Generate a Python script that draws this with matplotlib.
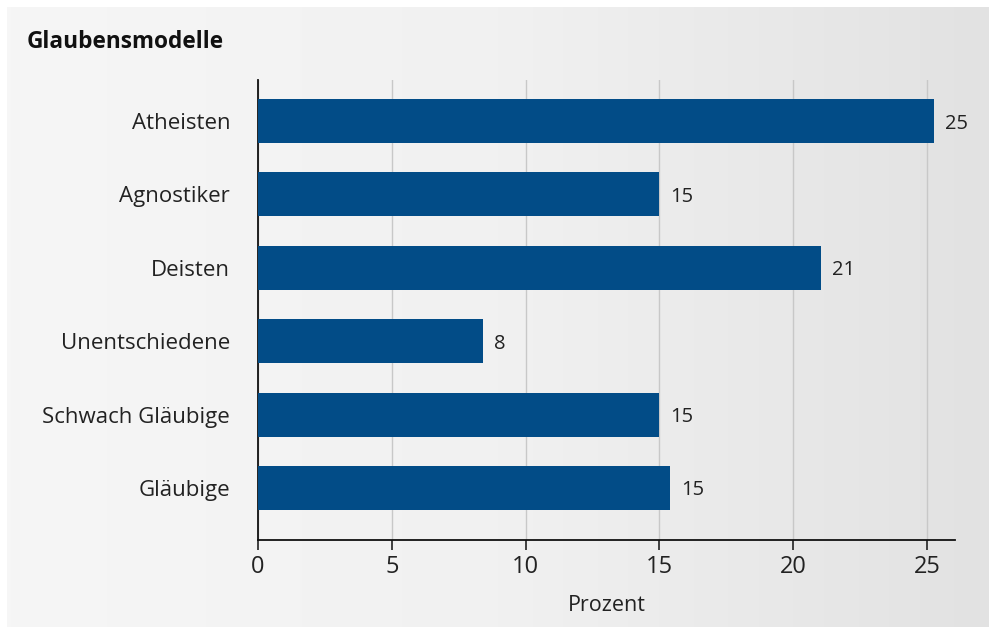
import numpy as np
import matplotlib.pyplot as plt
from matplotlib.colors import LinearSegmentedColormap

plt.rcParams['font.family'] = ['Open Sans', 'DejaVu Sans']

kategorien = ['Atheisten', 'Agnostiker', 'Deisten', 'Unentschiedene',
              'Schwach Gläubige', 'Gläubige']
prozent = [25.25, 15.0, 21.05, 8.4, 15.0, 15.4]
xticks = [0, 5, 10, 15, 20, 25]

fig = plt.figure(figsize=(9.89, 6.27), dpi=100)

# Hintergrund mit horizontalem Grauverlauf
bg = fig.add_axes([7 / 989, 0, 982 / 989, 620 / 627], zorder=-10)
verlauf = np.linspace(0, 1, 256).reshape(1, -1)
cmap = LinearSegmentedColormap.from_list('grau', ['#f6f6f6', '#f1f1f1', '#e2e2e2'])
bg.imshow(verlauf, aspect='auto', cmap=cmap, extent=[0, 1, 0, 1])
bg.axis('off')

ax = fig.add_axes([258 / 989, 1 - 540 / 627, (955 - 258) / 989, (540 - 80) / 627])
ax.set_facecolor('none')

y = np.arange(len(kategorien))
ax.barh(y, prozent, height=0.6, color='#024c87', zorder=3)
for yi, v in zip(y, prozent):
    ax.text(v + 0.42, yi, f'{v:.0f}', va='center_baseline', ha='left',
            fontsize=14.5, color='#222222')

ax.set_yticks(y)
ax.set_yticklabels(kategorien, fontsize=16, color='#222222')
ax.set_ylim(5.71, -0.56)
ax.set_xlim(0, 26.05)
ax.set_xticks(xticks)
ax.set_xticklabels([str(t) for t in xticks], fontsize=17, color='#222222')
ax.tick_params(axis='y', length=0, pad=20)
ax.tick_params(axis='x', length=7, width=1.2, color='#222222', pad=4)

ax.grid(axis='x', color='#c8c8c8', linewidth=1, zorder=0)
ax.set_axisbelow(True)
for s in ['top', 'right']:
    ax.spines[s].set_visible(False)
for s in ['left', 'bottom']:
    ax.spines[s].set_linewidth(1.3)
    ax.spines[s].set_color('#111111')

ax.set_xlabel('Prozent', fontsize=15.5, color='#222222', labelpad=11)

fig.text(27 / 989, 1 - 42 / 627, 'Glaubensmodelle', fontsize=16.3,
         fontweight='bold', va='center', ha='left', color='#111111')

fig.savefig('out.png', dpi=100)
